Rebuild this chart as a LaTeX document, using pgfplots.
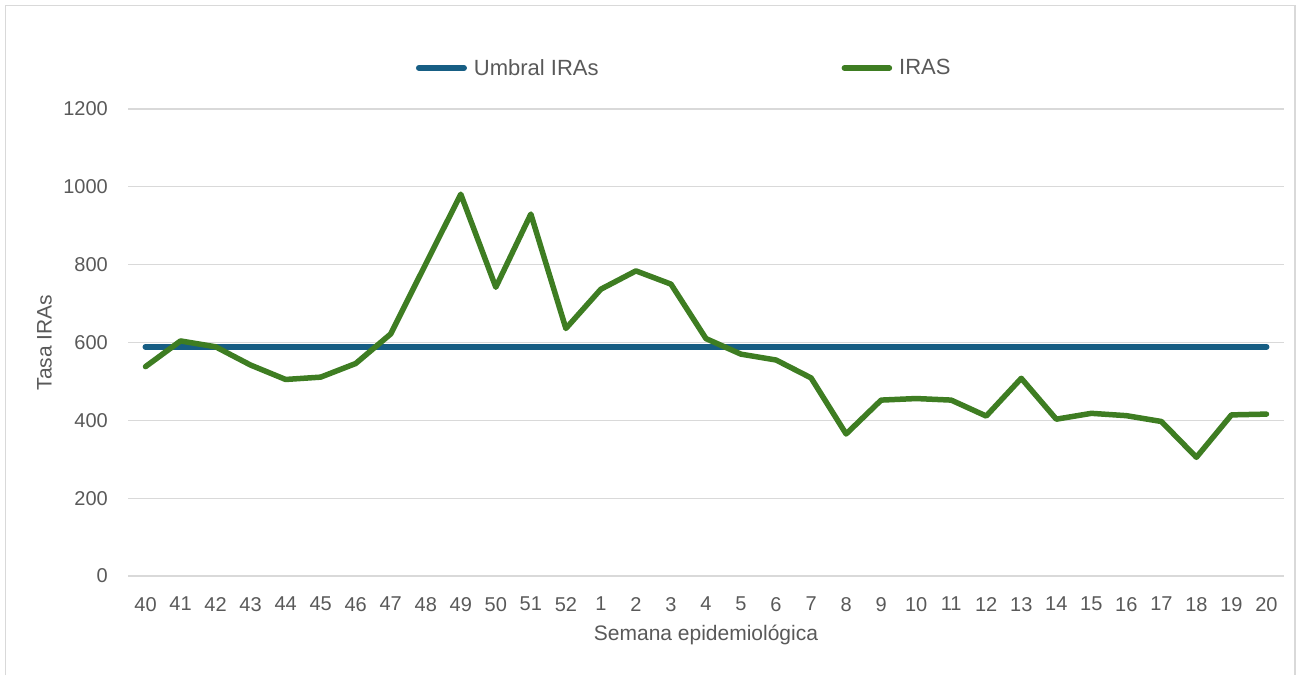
\documentclass[border=0pt]{standalone}
\usepackage{fontspec}
\setmainfont{Liberation Sans}
\usepackage{pgfplots}
\pgfplotsset{compat=1.18}
\definecolor{umbral}{RGB}{23,94,132}
\definecolor{iras}{RGB}{62,125,34}
\definecolor{txtgrey}{RGB}{89,89,89}
\definecolor{gridgrey}{RGB}{217,217,217}
\begin{document}
\begin{tikzpicture}[x=1pt,y=1pt]
\path[use as bounding box] (0,0) rectangle (1297,675);
\draw[gridgrey, line width=1.5pt] (5.5,0) -- (5.5,669.5) -- (1295,669.5) -- (1295,0);
\begin{axis}[
  at={(128pt,99pt)}, anchor=south west,
  width=1156pt, height=467pt, scale only axis,
  xmin=-0.5, xmax=32.5, ymin=0, ymax=1200,
  xtick={0,...,32},
  xticklabels={40,41,42,43,44,45,46,47,48,49,50,51,52,1,2,3,4,5,6,7,8,9,10,11,12,13,14,15,16,17,18,19,20},
  ytick={0,200,...,1200},
  axis line style={draw=none},
  major tick length=0pt,
  ymajorgrids,
  grid style={gridgrey, line width=1.3pt},
  /pgf/number format/assume math mode=true,
  /pgf/number format/1000 sep={},
  ticklabel style={font=\fontsize{20}{24}\selectfont, text=txtgrey},
  yticklabel style={anchor=east, inner sep=0pt, xshift=-20pt},
  xticklabel style={anchor=north, inner sep=0pt, yshift=-21pt},
  xlabel={Semana epidemiológica},
  ylabel={Tasa IRAs},
  label style={font=\fontsize{21}{25}\selectfont, text=txtgrey, inner sep=0pt},
  xlabel style={at={(axis description cs:0.5,0)}, anchor=north, yshift=-49pt},
  ylabel style={at={(axis description cs:0,0.5)}, anchor=south, rotate=0, yshift=76pt},
  legend columns=2,
  legend image code/.code={\path (0pt,0pt) (51pt,0pt); \draw[#1, line cap=round] (3pt,0pt) -- (48pt,0pt);},
  legend style={at={(0.2465,1.0878)}, anchor=west, draw=none, fill=none,
    inner sep=0pt, outer sep=0pt,
    nodes={inner sep=0pt, font=\fontsize{22}{26}\selectfont, text=txtgrey},
    /tikz/every odd column/.append style={column sep=4pt},
    /tikz/every even column/.append style={column sep=240pt}},
]
\addplot[umbral, line width=6pt, line cap=round] coordinates {
(0,589) (1,589) (2,589) (3,589) (4,589) (5,589) (6,589) (7,589) (8,589) (9,589) (10,589)
(11,589) (12,589) (13,589) (14,589) (15,589) (16,589) (17,589) (18,589) (19,589) (20,589)
(21,589) (22,589) (23,589) (24,589) (25,589) (26,589) (27,589) (28,589) (29,589) (30,589)
(31,589) (32,589)};
\addlegendentry{Umbral IRAs}
\addplot[iras, line width=5.5pt, line cap=round, line join=round] coordinates {
(0,538) (1,604) (2,589) (3,542) (4,505) (5,511) (6,546) (7,622) (8,802) (9,981) (10,742)
(11,930) (12,636) (13,737) (14,784) (15,750) (16,610) (17,570) (18,555) (19,509) (20,365)
(21,452) (22,456) (23,452) (24,411) (25,508) (26,403) (27,418) (28,412) (29,397) (30,305)
(31,414) (32,416)};
\addlegendentry{IRAS}
\end{axis}
\end{tikzpicture}
\end{document}
